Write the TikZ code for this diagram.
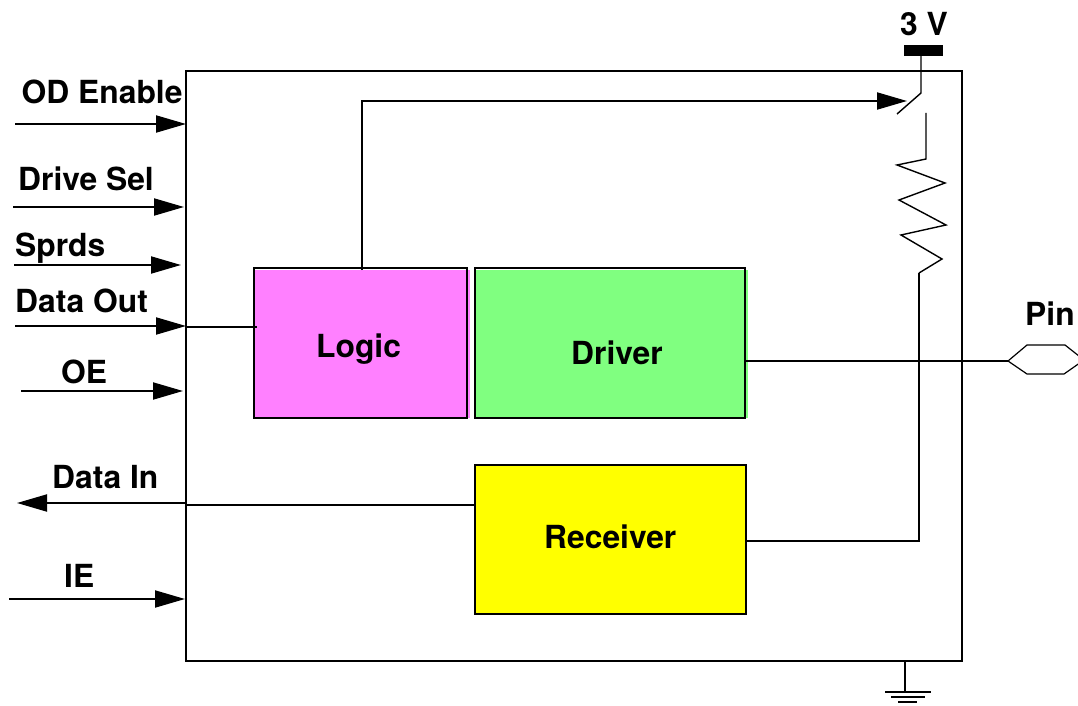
\documentclass[tikz,border=0pt]{standalone}
\usepackage{fontspec}
\setmainfont{TeX Gyre Heros}
\usetikzlibrary{arrows.meta}
\definecolor{logicfill}{HTML}{FF80FF}
\definecolor{driverfill}{HTML}{80FF80}
\definecolor{receiverfill}{HTML}{FFFF00}
\tikzset{
  x=1pt,y=-1pt,
  wire/.style={draw=black,line width=2pt},
  thinwire/.style={draw=black,line width=1.4pt},
  sig/.style={wire,-{Triangle[length=30pt,width=17pt]}},
  blockbox/.style={draw=black,line width=2pt,inner sep=0pt,anchor=north west},
  lab/.style={anchor=base west,inner sep=0pt,font=\fontsize{31.8}{32}\selectfont\bfseries},
}
\begin{document}
\begin{tikzpicture}
\useasboundingbox (0,0) rectangle (1078,706);
% outer box
\node[blockbox,minimum width=776pt,minimum height=590pt] (outer) at (185,70) {};
% fills that overhang the block outlines
\fill[logicfill] (255,270) rectangle (470,418);
\fill[driverfill] (476,270) rectangle (748,418);
% blocks
\node[blockbox,minimum width=213pt,minimum height=150pt] (logic) at (253,267) {};
\node[blockbox,minimum width=270pt,minimum height=150pt] (driver) at (474,267) {};
\node[blockbox,fill=receiverfill,minimum width=271pt,minimum height=149pt] (receiver) at (474,464) {};
\node[lab] (tlogic) at (316,357) {Logic};
\node[lab] (tdriver) at (571,364) {Driver};
\node[lab] (treceiver) at (544,548) {Receiver};
% signal labels
\node[lab] (todenable) at (21.5,104) {OD Enable};
\node[lab] (tdrivesel) at (18,190) {Drive Sel};
\node[lab] (tsprds) at (15,256) {Sprds};
\node[lab] (tdataout) at (15,312) {Data Out};
\node[lab] (toe) at (61,383) {OE};
\node[lab] (tdatain) at (52,488) {Data In};
\node[lab] (tie) at (64,587) {IE};
\node[lab] (tpin) at (1025,325) {Pin};
\node[lab] (tvdd) at (900,36) {3 V};
% end points
\coordinate (a1) at (15,124);  \coordinate (b1) at (186,124);
\coordinate (a2) at (13,207);  \coordinate (b2) at (184,207);
\coordinate (a3) at (14,265);  \coordinate (b3) at (181,265);
\coordinate (a4) at (15,326);  \coordinate (b4) at (186,326);
\coordinate (a5) at (21,391);  \coordinate (b5) at (183,391);
\coordinate (a6) at (186,503); \coordinate (b6) at (17,503);
\coordinate (a7) at (9,599);   \coordinate (b7) at (185,599);
\draw[sig] (a1) -- (b1);
\draw[sig] (a2) -- (b2);
\draw[sig] (a3) -- (b3);
\draw[sig] (a4) -- (b4);
\draw[sig] (a5) -- (b5);
\draw[sig] (a6) -- (b6);
\draw[sig] (a7) -- (b7);
% internal wires
\coordinate (dostart) at (186,327);
\coordinate (dolog) at (257,327);
\draw[wire] (dostart) -- (dolog);
\coordinate (direcv) at (475,505);
\coordinate (dibox) at (186,505);
\draw[wire] (direcv) -- (dibox);
% logic to switch
\coordinate (logtop) at (362,270);
\coordinate (logup) at (362,101);
\coordinate (swarrow) at (907,101);
\draw[sig] (logtop) -- (logup) -- (swarrow);
% supply bar and switch
\node[fill=black,inner sep=0pt,minimum width=39pt,minimum height=11pt,anchor=north west] (bar) at (904,45) {};
\coordinate (swtop) at (921,50);
\coordinate (swknee) at (921,93);
\coordinate (swend) at (897,114);
\draw[thinwire] (swtop) -- (swknee) -- (swend);
% resistor and receiver feed
\coordinate (rtop) at (926,113);
\draw[thinwire,line join=miter] (rtop) -- (926,159) -- (897,165) -- (945,183) -- (899,200) -- (946,225) -- (901,235) -- (942,259) -- (919,273);
\coordinate (rk) at (919,273);
\coordinate (rc) at (919,541);
\coordinate (rr) at (746,541);
\draw[wire] (rk) -- (rc) -- (rr);
% driver to pin
\coordinate (drv) at (746,361);
\coordinate (pinw) at (1008,361);
\draw[wire] (drv) -- (pinw);
\draw[draw=black,line width=1.2pt,line join=miter] (pinw) -- (1027,345) -- (1065,345) -- (1084,360) -- (1064,374) -- (1027,374) -- cycle;
% ground
\coordinate (g0) at (905,661);
\coordinate (g1) at (905,691);
\draw[wire] (g0) -- (g1);
\draw[wire] (885,691.5) -- (931,691.5);
\draw[wire] (891,697) -- (925,697);
\draw[wire] (898,702) -- (917,702);
\end{tikzpicture}
\end{document}
